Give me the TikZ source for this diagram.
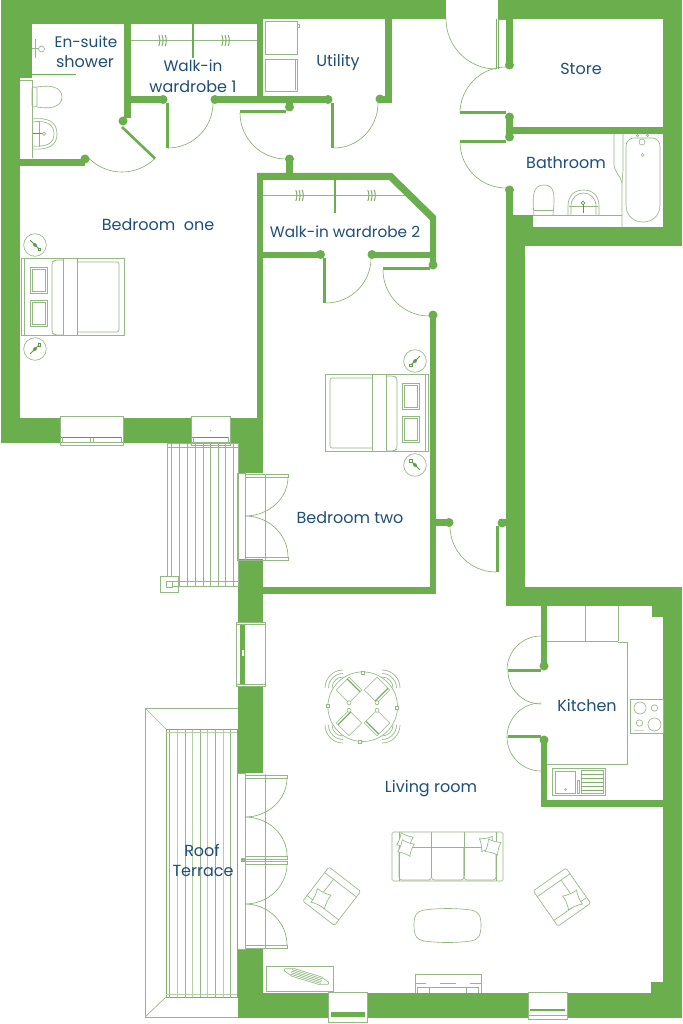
\documentclass[tikz,border=0pt]{standalone}
\usepackage{fontspec}
\setmainfont{Poppins}
\definecolor{wallg}{HTML}{6AAE4E}
\definecolor{lineg}{HTML}{7FAE68}
\definecolor{furng}{HTML}{93B883}
\definecolor{paleg}{HTML}{B4D1A3}
\definecolor{darkg}{HTML}{5E9A48}
\definecolor{txtb}{HTML}{1F4E79}
\tikzset{
  wallfill/.style={fill=wallg,draw=none},
  arcline/.style={draw=lineg,line width=0.6pt},
  furn/.style={draw=furng,line width=0.65pt},
  pale/.style={draw=paleg,line width=0.8pt},
  rod/.style={draw=furng,line width=1.2pt},
  winbox/.style={draw=furng,fill=white,line width=0.7pt},
  lbl/.style={text=txtb,font=\fontsize{16}{18}\selectfont,inner sep=0pt,anchor=base},
  lblsm/.style={text=txtb,font=\fontsize{15.3}{18}\selectfont,inner sep=0pt,anchor=base}
}
\newcommand{\pdot}[2]{\fill[wallg] (#1,#2) circle[radius=4.5];}
\newcommand{\wrect}[4]{\fill[wallfill] (#1,#2) rectangle (#3,#4);}
\newcommand{\darc}[6]{\draw[arcline] ({#1+(#3)*cos(#5)},{#2+(#4)*sin(#5)}) arc[start angle=#5,delta angle=#6,x radius=#3,y radius=#4];}
\newcommand{\hanger}[2]{\foreach \hx in {-3.2,0,3.2}{\draw[draw=lineg,line width=1pt] (#1+\hx,#2-5.5) to[bend left=20] (#1+\hx,#2+5.5);}}
\newcommand{\pillow}[4]{\draw[furn] (#1,#2) rectangle (#3,#4); \draw[furn] (#1+2,#2+2) rectangle (#3-2,#4-2);}
\newcommand{\softsq}[1]{\draw[furn,fill=white] (-#1,-#1) .. controls (-#1*0.4,-#1*0.85) and (#1*0.4,-#1*0.85) .. (#1,-#1) .. controls (#1*0.85,-#1*0.4) and (#1*0.85,#1*0.4) .. (#1,#1) .. controls (#1*0.4,#1*0.85) and (-#1*0.4,#1*0.85) .. (-#1,#1) .. controls (-#1*0.85,#1*0.4) and (-#1*0.85,-#1*0.4) .. (-#1,-#1) -- cycle;}
\newcommand{\bedshape}{%
  \draw[furn] (0,0) rectangle (103,77);
  \draw[furn] (3,0) -- (3,77);
  \draw[furn,rounded corners=2] (42,77) -- (34,77) -- (31,75) -- (31,4) -- (34,2) -- (42,2);
  \draw[furn] (42,0) -- (42,77);
  \draw[furn] (56,0) -- (56,77);
  \draw[furn,rounded corners=2] (56,4) -- (98,4) -- (98,74) -- (56,74);
  \pillow{9}{9}{26}{35}
  \pillow{9}{42}{26}{68}
}
\newcommand{\lamp}[3]{\begin{scope}[shift={(#1,#2)},rotate=-#3]
  \draw[furn] (0,0) circle[radius=11.3];
  \draw[draw=darkg,line width=0.8pt] (-7,0) -- (6,0);
  \fill[darkg] (-3,0) -- (0,-2) -- (3,0) -- (0,2) -- cycle;
  \draw[draw=darkg,fill=white,line width=0.6pt] (6,0) circle[radius=1.6];
\end{scope}}
\newcommand{\armchair}{%
  \draw[furn,rounded corners=1.5] (0,0) rectangle (40,43);
  \draw[furn] (0,7) -- (40,7);
  \draw[furn] (0,36) -- (40,36);
  \draw[furn] (11,7) -- (11,36);
  \begin{scope}[shift={(13,30)},rotate=12]\softsq{7.5}\end{scope}
}
\newcommand{\dchair}[4]{\begin{scope}[shift={(#1,#2)},rotate=#3]
  \draw[furn] (-9,-9) rectangle (9,9);
  \draw[draw=lineg,line width=1.3pt] (-9,-6.5) -- (9,-6.5);
  \draw[furn,fill=white] #4 circle[radius=2];
\end{scope}}
\newcommand{\dback}[3]{\foreach \rr in {11,14.5,18}{\draw[furn] ({#1+\rr*cos(#3-45)},{#2+\rr*sin(#3-45)}) arc[start angle=#3-45,delta angle=90,radius=\rr];}}
\begin{document}
\begin{tikzpicture}[x=1pt,y=-1pt]
\useasboundingbox (0,0) rectangle (682,1024);
\fill[white] (0,0) rectangle (682,1024);
% ---------- walls
\wrect{1}{0}{446}{19}
\wrect{1}{0}{263}{24}
\wrect{498}{0}{682}{19}
\wrect{1}{0}{20}{443}
\wrect{1}{0}{32}{78}
\wrect{1}{418}{263}{443}
\wrect{257}{173}{263}{473}
\wrect{238}{418}{263}{473}
\wrect{238}{559}{263}{623}
\wrect{263}{587}{436}{594}
\wrect{238}{684}{263}{773}
\wrect{238}{949}{263}{1018}
\wrect{238}{993}{682}{1018}
\wrect{663}{587}{682}{1018}
\wrect{651}{982}{663}{993}
\wrect{506}{587}{682}{606}
\wrect{652}{606}{663}{617}
\wrect{506}{215}{525}{606}
\wrect{506}{227}{682}{246}
\wrect{663}{0}{682}{246}
\wrect{513}{215}{533}{227}
\wrect{506}{19}{513}{65}
\wrect{506}{117}{513}{137}
\wrect{513}{127}{663}{134}
\wrect{506}{190}{513}{215}
\wrect{20}{159}{85}{166}
\wrect{124}{24}{131}{118}
\wrect{131}{96}{163}{103}
\wrect{215}{96}{328}{103}
\wrect{257}{24}{263}{96}
\wrect{385}{19}{392}{103}
\wrect{380}{96}{392}{103}
\wrect{286}{103}{293}{107}
\wrect{286}{159}{293}{173}
\fill[wallfill] (257,173) -- (392,173) -- (436,216) -- (436,265) -- (430,265) -- (430,220) -- (389,180) -- (257,180) -- cycle;
\wrect{263}{252}{320}{258}
\wrect{372}{252}{430}{258}
\wrect{430}{315}{436}{594}
\wrect{436}{519}{449}{526}
\wrect{499}{519}{506}{526}
\wrect{541}{606}{547}{666}
\wrect{541}{740}{547}{807}
\wrect{541}{800}{663}{807}
% ---------- pivots
\pdot{85}{159}\pdot{123}{121}\pdot{163}{99.5}\pdot{215}{99.5}\pdot{328}{99.5}\pdot{380}{99}
\pdot{289.5}{107}\pdot{289.5}{159}\pdot{320.5}{254.5}\pdot{372}{254.5}\pdot{433}{265}\pdot{433}{315}
\pdot{449}{522.5}\pdot{502}{523}\pdot{509.5}{65}\pdot{509.5}{117}\pdot{509.5}{137}\pdot{509.5}{190}
\pdot{544}{666}\pdot{544}{740}
% ---------- door leaves
\draw[draw=wallg,line width=2.6pt] (122,127) -- (155,158.5);
\wrect{165.5}{103}{168.5}{148.5}
\wrect{331}{103}{334}{148.5}
\wrect{240}{110.5}{286}{113}
\wrect{323}{258}{326}{303}
\wrect{383}{267}{430}{270}
\wrect{496}{526}{499}{572}
\wrect{460}{111}{506}{114}
\wrect{460}{140}{506}{143}
\wrect{508}{669}{541}{672}
\wrect{508}{735}{541}{738}
\draw[arcline] (496,19) -- (496,69) (498.5,19) -- (498.5,69) (498,19) -- (506,19);
% ---------- door swings
\darc{122}{125}{47}{47}{45}{90}
\darc{168}{103}{45}{45}{0}{90}
\darc{334}{103}{44}{45}{0}{90}
\darc{286}{113}{46}{46}{90}{90}
\darc{326}{258}{45}{45}{0}{90}
\darc{429}{270}{46}{46}{90}{90}
\darc{496}{526}{46}{46}{90}{90}
\darc{496}{19}{50}{50}{90}{90}
\darc{506}{113}{46}{46}{180}{90}
\darc{506}{142}{46}{46}{90}{90}
\darc{541}{670}{34}{34}{180}{90}
\darc{541}{671}{33}{33}{90}{90}
\darc{541}{737}{34}{34}{180}{90}
\darc{541}{737}{34}{34}{90}{90}
% French doors, bedroom two
\draw[furn] (237,473) rectangle (245,560) (265,474) -- (265,560);
\draw[furn] (245,474) rectangle (288,477) (245,557) rectangle (288,560);
\darc{245}{477}{43}{39}{0}{90}
\darc{245}{557}{43}{41}{270}{90}
% French doors, living room
\draw[furn] (237,773) rectangle (245,949) (265,774) -- (265,949);
\draw[furn] (245,775) rectangle (287,778) (245,856) rectangle (287,859) (245,861) rectangle (287,864) (245,945) rectangle (287,948);
\darc{245}{778}{42}{39}{0}{90}
\darc{245}{856}{42}{39}{270}{90}
\darc{245}{864}{42}{40}{0}{90}
\darc{245}{945}{42}{41}{270}{90}
\fill[furng] (241,858) rectangle (245,862);
% ---------- windows
\draw[winbox] (60,416) rectangle (123,445);
\draw[draw=darkg,line width=1pt] (61,437.5) -- (122,437.5);
\draw[furn] (60,442.5) -- (123,442.5) (62,437) -- (62,443) (121,437) -- (121,443) (90,438) -- (90,442) (93,438) -- (93,442);
\draw[winbox] (191,416) rectangle (230,445);
\draw[draw=darkg,line width=1pt] (192,437.5) -- (229,437.5);
\draw[furn] (191,442.5) -- (230,442.5) (193,437) -- (193,443) (228,437) -- (228,443);
\fill[furng] (210.5,430.5) circle[radius=0.6];
\draw[winbox] (236,622) rectangle (265,686);
\fill[wallg] (240,624) rectangle (245,684);
\draw[furn] (236.5,624) -- (265,624) (236.5,684) -- (265,684);
\fill[white] (242,650) rectangle (243.5,656);
\draw[winbox] (328,992) rectangle (367,1022);
\fill[wallg] (331,1012) rectangle (365,1017);
\draw[winbox] (528,992) rectangle (567,1019);
\fill[wallg] (530,1009) rectangle (565,1011);
\draw[furn] (528,1015) -- (567,1015);
% ---------- wardrobes
\draw[rod] (131,40.5) -- (257,40.5);
\draw[draw=wallg,line width=1.3pt] (193,24) -- (193,58);
\hanger{162}{40.5}\hanger{225}{40.5}
\draw[rod] (263,195.5) -- (405,195.5);
\draw[draw=wallg,line width=1.3pt] (335,180) -- (335,213);
\hanger{299}{195.5}\hanger{371}{195.5}
% ---------- utility appliances
\draw[furn] (265,21) rectangle (297,54) (265,59) rectangle (297,91);
\draw[furn] (295,60) -- (295,90);
\draw[furn] (297,24) rectangle (299,27);
% ---------- en-suite
\draw[draw=wallg,line width=0.9pt] (32,74) -- (76,74);
\draw[furn] (20,80) -- (32,80) (32,80) -- (32,158);
\draw[draw=furng,line width=1pt] (35,39) -- (35,58) (32,49) -- (39,49);
\draw[furn] (41.5,49) circle[radius=3];
\draw[furn,rounded corners=2] (32,87) rectangle (37,107);
\draw[furn] (37,87) .. controls (48,85) and (62,86) .. (62,97) .. controls (62,108) and (48,109) .. (37,107);
\draw[furn] (32,119) .. controls (48,117) and (57,122) .. (57,134) .. controls (57,146) and (48,150) .. (32,149);
\draw[furn] (32,122) .. controls (46,120) and (54,124) .. (54,134) .. controls (54,144) and (46,147) .. (32,146);
\draw[furn] (39.5,121) -- (39.5,147);
\draw[draw=darkg,line width=0.7pt] (33,133.7) -- (42,133.7);
\draw[furn] (44,133.7) circle[radius=1.6];
% ---------- bathroom
\draw[furn] (623,134) -- (623,170) -- (622,183) -- (622,227);
\draw[furn] (614,134) -- (614,164) .. controls (614,172) and (621,176) .. (622,183);
\draw[furn,rounded corners=8] (626,170) -- (626,138) -- (660,138) -- (660,170);
\draw[furn] (660,170) -- (660,205) .. controls (660,216) and (652,222) .. (643,222) .. controls (634,222) and (626,216) .. (626,205) -- (626,170);
\draw[furn,fill=white] (642,142) circle[radius=3];
\draw[furn] (642.7,155) circle[radius=1.5] (637.5,135.5) circle[radius=1.2] (647.5,135.5) circle[radius=1.2];
\draw[furn] (533,215) -- (622,215);
\draw[furn] (534,215) .. controls (532,195) and (533,185) .. (544,185) .. controls (555,185) and (555,195) .. (553,215);
\draw[furn] (534,210) -- (553,210);
\draw[furn] (568,215) -- (568,206) .. controls (568,195) and (575,190) .. (583.5,190) .. controls (592,190) and (599,195) .. (599,206) -- (599,215);
\draw[furn] (571,215) -- (571,206) .. controls (571,198) and (577,193) .. (583.5,193) .. controls (590,193) and (596,198) .. (596,206) -- (596,215);
\draw[furn] (569,206) -- (598,206);
\draw[draw=darkg,line width=0.7pt] (583,205) -- (583,213);
\draw[draw=darkg,line width=0.7pt] (583,203) circle[radius=1.8];
% ---------- balcony off bedroom two
\foreach \bx in {171,179,187,195,203,210,218,225,233,238}{\draw[furn] (\bx,443) -- (\bx,586);}
\draw[furn] (167,443) rectangle (238,586);
\draw[furn] (167,447) -- (238,447) (167,581.5) -- (238,581.5);
\draw[furn,fill=white] (160,576) rectangle (178,592);
\draw[furn,fill=white] (166,581) rectangle (172,587);
\draw[furn] (172,581.5) -- (238,581.5) (172,586) -- (238,586);
% ---------- terrace
\foreach \tx in {177,192,207,223}{\draw[pale] (\tx,729) -- (\tx,997);}
\foreach \tx in {169,185,200,215,230}{\draw[furn] (\tx,729) -- (\tx,997);}
\draw[furn] (145,708) -- (238,708) (145,708) -- (145,1017) -- (238,1017);
\draw[furn] (145,708) -- (166,729) (145,1017) -- (166,997);
\draw[draw=lineg,line width=0.8pt] (166,729) rectangle (237,997);
\draw[pale] (166,732) -- (237,732) (166,994) -- (237,994);
% ---------- beds
\begin{scope}[shift={(21,258)}]\bedshape\end{scope}
\begin{scope}[shift={(428,374)},xscale=-1]\bedshape\end{scope}
\lamp{35}{245}{45}
\lamp{35}{349}{-45}
\lamp{415}{361}{135}
\lamp{415}{465}{225}
% ---------- kitchen
\draw[furn] (585,606) -- (585,641) (618,606) -- (618,641);
\draw[furn] (547,641) -- (618,641) (618,642) -- (627,642) -- (627,764) -- (547,764);
\draw[furn] (630,699) rectangle (663,733);
\draw[furn] (640,708) circle[radius=6] (654.5,708) circle[radius=3.2] (639.5,723) circle[radius=3.2] (654.5,724.5) circle[radius=6.5];
\foreach \kx in {635,637,639,641,643}{\fill[furng] (\kx,730.5) circle[radius=0.6];}
\draw[furn] (552.5,768) rectangle (605,795);
\draw[furn] (555,771) rectangle (575,793);
\draw[furn] (581,770) rectangle (603,793);
\foreach \ky in {774,778,782,786,790}{\draw[draw=lineg,line width=0.8pt] (581,\ky) -- (603,\ky);}
\draw[furn] (577.5,780) rectangle (579.5,793);
\draw[furn] (565.5,789.5) circle[radius=1];
% ---------- dining set
\draw[furn] (362.7,706.7) circle[radius=34.8];
\foreach \cx/\cy in {363/672.5,327.5/706,397/708,360/742}{\draw[furn,fill=white] (\cx-1.5,\cy-1.5) rectangle (\cx+1.5,\cy+1.5);}
\dchair{349}{690}{-45}{(9,9)}
\dchair{377}{690}{-135}{(9,-9)}
\dchair{349}{723}{45}{(9,-9)}
\dchair{377}{723}{135}{(9,9)}
\dback{343}{688}{225}
\dback{382}{688}{315}
\dback{343}{725}{135}
\dback{382}{725}{45}
% ---------- sofa
\draw[furn,rounded corners=1.5] (392,832) rectangle (503,881);
\draw[furn] (399,832) -- (399,881) (431.5,832) -- (431.5,876) (464,832) -- (464,876) (496,832) -- (496,881);
\draw[furn] (399,847) -- (496,847);
\draw[furn,rounded corners=3] (399,847) -- (399,880) -- (431.5,880) -- (431.5,847);
\draw[furn,rounded corners=3] (431.5,847) -- (431.5,880) -- (464,880) -- (464,847);
\draw[furn,rounded corners=3] (464,847) -- (464,880) -- (496,880) -- (496,847);
\foreach \px/\py/\pr in {405/841/-20,406/848/-20,487/844/10,493/847/-15}{
  \begin{scope}[shift={(\px,\py)},rotate=\pr]\softsq{6.5}\end{scope}}
% ---------- armchairs
\begin{scope}[shift={(329,867)},rotate=-37.6]\armchair\end{scope}
\begin{scope}[shift={(566,868)},xscale=-1,rotate=-35]\armchair\end{scope}
% ---------- coffee table
\draw[furn] (424,910) .. controls (440,908) and (455,908) .. (471,910) .. controls (478,911) and (481,915) .. (481,925) .. controls (481,936) and (478,940) .. (471,941) .. controls (455,943) and (440,943) .. (424,941) .. controls (417,940) and (414,936) .. (414,925) .. controls (414,915) and (417,911) .. (424,910) -- cycle;
% ---------- tv unit and console
\draw[furn] (415,993) -- (415,974) -- (481,974) -- (481,993);
\draw[furn] (415,983) -- (426,983) (440,983) -- (456,983) (470,983) -- (481,983);
\draw[furn] (417,993) -- (417,987) -- (429,987) -- (429,993) (466,993) -- (466,987) -- (478,987) -- (478,993) (429,987) -- (466,987);
\draw[furn] (266,966) rectangle (333,991);
\begin{scope}[shift={(306.5,976.5)},rotate=-17]
\draw[furn] (-23,-1) -- (-14,-4) -- (14,-4) -- (23,-1) -- (23,1) -- (14,4) -- (-14,4) -- (-23,1) -- cycle;
\foreach \ry in {-2.4,-0.8,0.8,2.4}{\draw[furn] (-16,\ry) -- (16,\ry);}
\end{scope}
% ---------- labels
\node[lblsm] (ensuite) at (86,48) {En-suite};
\node[lbl] (shower) at (85,68) {shower};
\node[lblsm] (wi1a) at (193,72) {Walk-in};
\node[lbl] (wi1b) at (193,92.5) {wardrobe 1};
\node[lbl] (utility) at (338,67) {Utility};
\node[lbl] (store) at (581,75) {Store};
\node[lbl] (bathroom) at (566,169) {Bathroom};
\node[lbl] (bedone) at (158,230.5) {Bedroom\ \ one};
\node[lblsm] (wi2) at (345,237) {Walk-in wardrobe 2};
\node[lbl] (bedtwo) at (350,523) {Bedroom two};
\node[lbl] (kitchen) at (587,711) {Kitchen};
\node[lbl] (living) at (431,792) {Living room};
\node[lbl] (roof) at (202,856.5) {Roof};
\node[lbl] (terrace) at (203,876.5) {Terrace};
\end{tikzpicture}
\end{document}
